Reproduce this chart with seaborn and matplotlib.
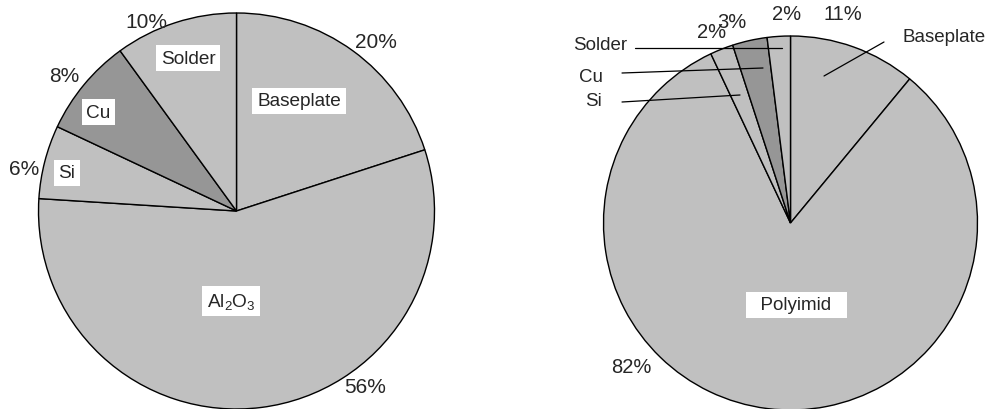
import matplotlib
matplotlib.use("Agg")
import matplotlib.pyplot as plt
import seaborn as sns

# ---- data ----
left_labels = ["Baseplate", "Al$_2$O$_3$", "Si", "Cu", "Solder"]
left_values = [20, 56, 6, 8, 10]
right_labels = ["Baseplate", "Polyimid", "Si", "Cu", "Solder"]
right_values = [11, 82, 2, 3, 2]
pct_fmt = "{}%"

sns.set_theme(style="white")
plt.rcParams["font.family"] = ["Liberation Sans", "DejaVu Sans"]
plt.rcParams["mathtext.default"] = "regular"

light = "#C0C0C0"
dark = "#969696"
left_colors = [light, light, light, dark, light]
right_colors = [light, light, light, dark, light]

W, H = 989, 410
fig = plt.figure(figsize=(W / 100, H / 100), dpi=100)
ax = fig.add_axes([0, 0, 1, 1])

def Y(py):
    return H - py

wp = dict(edgecolor="black", linewidth=1.0)
ax.pie(left_values, colors=left_colors, startangle=90, counterclock=False,
       center=(236.5, Y(212)), radius=198, wedgeprops=wp)
ax.pie(right_values, colors=right_colors, startangle=90, counterclock=False,
       center=(790.5, Y(224)), radius=187, wedgeprops=wp)

box = dict(boxstyle="square,pad=0.25", facecolor="white", edgecolor="none")

# left pie category labels (layout positions)
left_label_pos = [(299, 102), (231, 302), (67, 174), (98.5, 113), (188, 59)]
for lab, (x, y) in zip(left_labels, left_label_pos):
    ax.text(x, Y(y), lab, ha="center", va="center", fontsize=13.7, bbox=box)

left_pct_pos = [(376, 42), (365, 388), (24, 170), (64, 76), (146, 22)]
for v, (x, y) in zip(left_values, left_pct_pos):
    ax.text(x, Y(y), pct_fmt.format(v), ha="center", va="center", fontsize=15)

# right pie labels with leader lines
right_label_pos = [(944, 37), (796, 306), (593, 102), (591, 77), (600, 46)]
right_line = [((884, 43), (824, 77)), None, ((622, 103), (740, 96)),
              ((622, 74), (763, 69)), ((635, 49), (782, 49))]
for lab, (x, y), ln in zip(right_labels, right_label_pos, right_line):
    if ln is None:
        ax.text(x, Y(y), "  " + lab + "  ", ha="center", va="center",
                fontsize=13.5, bbox=box)
    else:
        ax.text(x, Y(y), lab, ha="center", va="center", fontsize=13.5)
        (x0, y0), (x1, y1) = ln
        ax.plot([x0, x1], [Y(y0), Y(y1)], color="black", linewidth=0.9)

right_pct_pos = [(843, 15), (631, 368), (712, 32), (732, 22), (787, 15)]
for v, (x, y) in zip(right_values, right_pct_pos):
    ax.text(x, Y(y), pct_fmt.format(v), ha="center", va="center", fontsize=14.5)

ax.set_xlim(0, W)
ax.set_ylim(0, H)
ax.set_aspect("equal")
ax.axis("off")
fig.savefig("out.png", dpi=100, facecolor="white")
